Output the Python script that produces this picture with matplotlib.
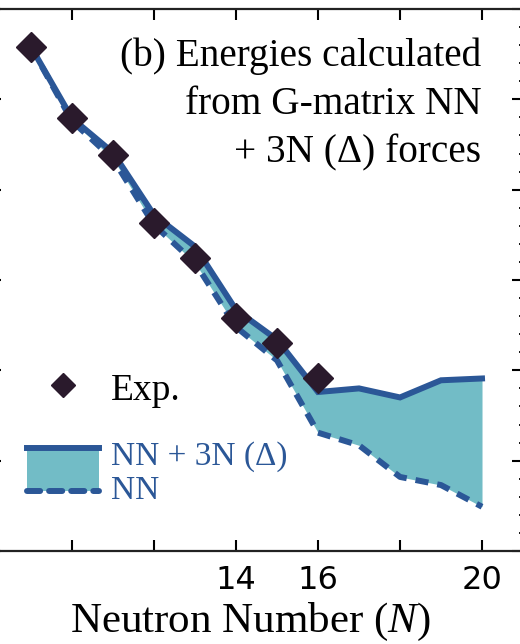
import numpy as np
import matplotlib
matplotlib.use("Agg")
import matplotlib.pyplot as plt
import matplotlib.transforms as mtransforms
from matplotlib.legend_handler import HandlerBase
from matplotlib.patches import Rectangle
from matplotlib.lines import Line2D

plt.rcParams['font.family'] = ['Liberation Serif', 'DejaVu Serif']
plt.rcParams['mathtext.fontset'] = 'custom'
plt.rcParams['mathtext.it'] = 'Liberation Serif:italic'
plt.rcParams['mathtext.rm'] = 'Liberation Serif'

AZUL = "#2b5797"
RELLENO = "#72bcc6"
NEGRO = "#2a1a2c"

# energias relativas a 16O (MeV)
n_exp = [9, 10, 11, 12, 13, 14, 15, 16]
e_exp = [-4.2, -12.1, -16.2, -23.7, -27.6, -34.2, -37.0, -40.8]

n_teo = [9, 10, 11, 12, 13, 14, 15, 16, 17, 18, 19, 20]
e_nn3n = [-4.2, -12.1, -15.9, -22.8, -26.3, -33.3, -36.6, -42.4, -42.0, -43.0, -41.1, -40.9]
e_nn = [-4.2, -12.4, -16.6, -23.9, -28.1, -35.2, -38.9, -46.9, -48.3, -51.8, -52.7, -55.1]

xticks = [8, 10, 12, 14, 16, 18, 20]
xtick_labels = ["8", "", "", "14", "16", "", "20"]


class BandaHandler(HandlerBase):
    def create_artists(self, legend, orig_handle, xdescent, ydescent,
                       width, height, fontsize, trans):
        x0 = -xdescent
        h = height * 1.2
        y0 = -ydescent + height / 2 - h / 2 + 0.12 * height
        rect = Rectangle((x0, y0), width, h, facecolor=RELLENO,
                         edgecolor='none', transform=trans)
        arriba = Line2D([x0, x0 + width], [y0 + h] * 2, color=AZUL,
                        lw=4.3, transform=trans)
        abajo = Line2D([x0, x0 + width], [y0] * 2, color=AZUL, lw=4.3,
                       ls=(0, (2.2, 1.5)), dash_capstyle='round', transform=trans)
        return [rect, arriba, abajo]


fig = plt.figure(figsize=(5.2, 6.44), dpi=100)
ax = fig.add_axes([-0.0192, 0.1444, 1.025, 0.8416])

ax.fill_between(n_teo, e_nn, e_nn3n, color=RELLENO, lw=0)
ax.plot(n_teo, e_nn, color=AZUL, lw=4.3, ls=(0, (2.2, 1.5)), dash_capstyle='butt')
ax.plot(n_teo, e_nn3n, color=AZUL, lw=4.3, solid_joinstyle='miter')
ax.plot(n_exp, e_exp, 'D', color=NEGRO, ms=15, ls='none')

ax.set_xlim(8, 21)
ax.set_ylim(-60, 0)
ax.set_xticks(xticks)
ax.set_xticklabels(xtick_labels, family='DejaVu Sans', fontsize=23)
desplaza = mtransforms.ScaledTranslation(6 / 100, 0, fig.dpi_scale_trans)
for lab in ax.get_xticklabels():
    lab.set_transform(lab.get_transform() + desplaza)
ax.set_yticks(np.arange(-60, 1, 10))
ax.set_yticks(np.arange(-60, 1, 2), minor=True)
ax.set_yticklabels([])
ax.tick_params(axis='both', which='major', direction='in', length=8, width=1.5,
               top=True, right=True, pad=10)
ax.tick_params(axis='y', which='minor', direction='in', length=3, width=1.3,
               left=True, right=True)
for s in ax.spines.values():
    s.set_linewidth(1.6)
    s.set_color("#222222")

ax.set_xlabel(r"Neutron Number ($N$)", fontsize=31)
ax.xaxis.set_label_coords(0.488, -0.092)
ax.xaxis.label.set_va('top')

ax.text(0.922, 0.947, "(b) Energies calculated\nfrom G-matrix NN\n+ 3N (\u0394) forces",
        transform=ax.transAxes, ha='right', va='top', fontsize=28.3,
        linespacing=1.39, multialignment='right')

h_exp = Line2D([], [], marker='D', color=NEGRO, ms=12, ls='none')
h_banda = Rectangle((0, 0), 1, 1)
leg = ax.legend([h_exp, h_banda], ["Exp.", "NN + 3N (\u0394)\nNN"],
                handler_map={Rectangle: BandaHandler()},
                loc='upper left', bbox_to_anchor=(0.045, 0.358), frameon=False,
                fontsize=24, handlelength=2.15, handleheight=1.3,
                handletextpad=0.35, labelspacing=1.0, borderaxespad=0)
textos = leg.get_texts()
textos[0].set_fontsize(27)
textos[1].set_color(AZUL)
textos[1].set_linespacing(1.15)

fig.savefig("out.png", dpi=100)
